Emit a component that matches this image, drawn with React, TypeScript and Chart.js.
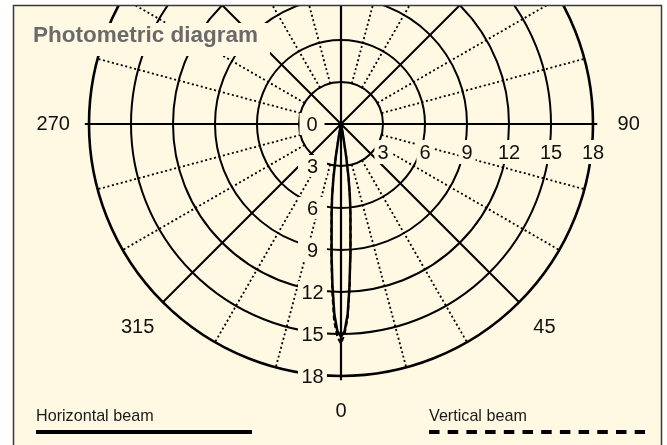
import React, { useEffect, useRef } from 'react';
import { Chart, registerables } from 'chart.js';

Chart.register(...registerables);

// ---------- data ----------
const ringValues = [3, 6, 9, 12, 15, 18];
const radialZeroLabel = '0';
const spokeAngles = [0, 15, 30, 45, 60, 75, 90, 105, 120, 135, 150, 165, 180, 195, 210, 225, 240, 255, 270, 285, 300, 315, 330, 345];
const angleTickAngles = [0, 45, 90, 270, 315];
const angleTickLabels = ['0', '45', '90', '270', '315'];

const beamAngles = [-12, -11, -10, -9, -8, -7, -6, -5, -4, -3, -2, -1, 0, 1, 2, 3, 4, 5, 6, 7, 8, 9, 10, 11, 12];
const horizontalBeam = [0, 0.3, 1.0, 2.4, 3.9, 5.2, 6.4, 7.8, 9.5, 11.6, 13.6, 14.8, 15.2, 14.8, 13.6, 11.6, 9.5, 7.8, 6.4, 5.2, 3.9, 2.4, 1.0, 0.3, 0];
const verticalBeam = [0, 0.3, 1.1, 2.5, 4.0, 5.3, 6.5, 8.0, 9.8, 12.0, 14.1, 15.2, 15.7, 15.0, 13.8, 11.7, 9.6, 7.9, 6.4, 5.2, 3.9, 2.4, 1.0, 0.3, 0];

const titleText = 'Photometric diagram';
const seriesNames = ['Horizontal beam', 'Vertical beam'];

// ---------- layout ----------
const W = 667;
const H = 445;
const CX = 341;
const CY = 124;
const U = 14; // px per unit
const FRAME = { l: 13, t: 5, r: 662, b: 470 };
const CREAM = '#fff8e3';
const FONT = '"Liberation Sans", Arial, Helvetica, sans-serif';
const LEGEND_X = [36, 429];
const LEGEND_LEN = 216;
const ANGLE_LABEL_R = 20.55;

const toXY = (r: number, deg: number) => {
  const a = (deg * Math.PI) / 180;
  return { x: r * Math.sin(a), y: -r * Math.cos(a) };
};

const photometricPlugin = {
  id: 'photometric',
  beforeDraw(chart: any) {
    const ctx = chart.ctx;
    ctx.save();
    ctx.fillStyle = '#ffffff';
    ctx.fillRect(0, 0, chart.width, chart.height);
    ctx.fillStyle = CREAM;
    ctx.fillRect(FRAME.l, FRAME.t, FRAME.r - FRAME.l, FRAME.b - FRAME.t);
    ctx.restore();
  },
  beforeDatasetsDraw(chart: any) {
    const ctx = chart.ctx;
    const xs = chart.scales.x;
    const ys = chart.scales.y;
    const cx = xs.getPixelForValue(0);
    const cy = ys.getPixelForValue(0);
    const pr = (v: number) => xs.getPixelForValue(v) - cx;
    const pt = (r: number, deg: number) => {
      const p = toXY(r, deg);
      return { x: xs.getPixelForValue(p.x), y: ys.getPixelForValue(p.y) };
    };
    ctx.save();
    ctx.beginPath();
    ctx.rect(FRAME.l + 1, FRAME.t + 1, FRAME.r - FRAME.l - 2, FRAME.b - FRAME.t - 2);
    ctx.clip();
    ctx.strokeStyle = '#000';
    ctx.lineCap = 'butt';

    // rings
    ringValues.forEach((v, i) => {
      ctx.beginPath();
      ctx.arc(cx, cy, pr(v), 0, Math.PI * 2);
      ctx.setLineDash([]);
      ctx.lineWidth = i === ringValues.length - 1 ? 2.6 : 2;
      ctx.stroke();
    });

    // spokes
    const rMin = ringValues[0];
    const rMax = ringValues[ringValues.length - 1];
    spokeAngles.forEach((a) => {
      const solid = a % 45 === 0;
      const axis = a % 90 === 0;
      const p0 = pt(solid ? 0 : rMin, a);
      const p1 = pt(axis ? rMax + 0.3 : rMax, a);
      ctx.beginPath();
      ctx.moveTo(p0.x, p0.y);
      ctx.lineTo(p1.x, p1.y);
      if (solid) {
        ctx.setLineDash([]);
        ctx.lineWidth = axis ? 2.2 : 2;
      } else {
        ctx.setLineDash([2, 2.6]);
        ctx.lineWidth = 1.8;
      }
      ctx.stroke();
    });
    ctx.setLineDash([]);

    // radial labels with boxes
    ctx.font = '20px ' + FONT;
    ctx.textAlign = 'center';
    ctx.textBaseline = 'middle';
    const boxed = (text: string, x: number, y: number, bw: number, bh: number) => {
      ctx.fillStyle = CREAM;
      ctx.fillRect(x - bw / 2, y - bh / 2, bw, bh);
      ctx.fillStyle = '#111';
      ctx.fillText(text, x, y + 1);
    };
    const lblX = cx - 29;
    boxed(radialZeroLabel, lblX, cy, 25, 22);
    ringValues.forEach((v) => {
      const p = pt(v, 0);
      boxed(String(v), lblX + 0.5, p.y, 29, 22);
    });
    ringValues.forEach((v) => {
      const p = pt(v, 90);
      const w = ctx.measureText(String(v)).width + 6;
      boxed(String(v), p.x, cy + 28, w, 24);
    });

    // angle labels
    angleTickAngles.forEach((a, i) => {
      const p = pt(ANGLE_LABEL_R, a);
      ctx.fillStyle = '#111';
      ctx.fillText(angleTickLabels[i], p.x, p.y);
    });

    // title
    ctx.fillStyle = CREAM;
    ctx.fillRect(FRAME.l + 1, 23, 256, 33);
    ctx.fillStyle = '#6a6a6a';
    ctx.font = 'bold 22.5px ' + FONT;
    ctx.textAlign = 'left';
    ctx.textBaseline = 'alphabetic';
    ctx.fillText(titleText, 33, 42);
    ctx.restore();
  },
  afterDraw(chart: any) {
    const ctx = chart.ctx;
    ctx.save();
    // legend
    chart.data.datasets.forEach((ds: any, i: number) => {
      const x0 = LEGEND_X[i];
      ctx.save();
      ctx.translate(x0, 421);
      ctx.scale(0.95, 1);
      ctx.font = '17px ' + FONT;
      ctx.fillStyle = '#1a1a1a';
      ctx.textAlign = 'left';
      ctx.textBaseline = 'alphabetic';
      ctx.fillText(ds.label, 0, 0);
      ctx.restore();
      ctx.beginPath();
      ctx.strokeStyle = '#000';
      ctx.lineWidth = 4;
      ctx.setLineDash(ds.borderDash && ds.borderDash.length ? [10.5, 8.2] : []);
      ctx.moveTo(x0, 432);
      ctx.lineTo(x0 + LEGEND_LEN, 432);
      ctx.stroke();
    });
    ctx.setLineDash([]);
    // frame
    ctx.strokeStyle = '#3a3a3a';
    ctx.lineWidth = 1.5;
    ctx.strokeRect(FRAME.l + 0.5, FRAME.t + 0.5, FRAME.r - FRAME.l - 1, FRAME.b - FRAME.t);
    ctx.restore();
  },
};

export default function App() {
  const canvasRef = useRef<HTMLCanvasElement | null>(null);

  useEffect(() => {
    if (!canvasRef.current) return;
    const mk = (vals: number[]) => beamAngles.map((a, i) => toXY(vals[i], a));
    const chart = new Chart(canvasRef.current, {
      type: 'scatter',
      data: {
        datasets: [
          {
            label: seriesNames[0],
            data: mk(horizontalBeam),
            showLine: true,
            borderColor: '#000',
            borderWidth: 2.5,
            pointRadius: 0,
            fill: false,
            tension: 0,
          },
          {
            label: seriesNames[1],
            data: mk(verticalBeam),
            showLine: true,
            borderColor: '#000',
            borderWidth: 2,
            borderDash: [5, 3],
            pointRadius: 0,
            fill: false,
            tension: 0,
          },
        ],
      },
      options: {
        animation: false,
        responsive: false,
        devicePixelRatio: 1,
        layout: { padding: 0 },
        plugins: {
          legend: { display: false },
          tooltip: { enabled: false },
          title: { display: false },
        },
        scales: {
          x: {
            type: 'linear',
            display: false,
            bounds: 'data',
            min: -CX / U,
            max: (W - CX) / U,
          },
          y: {
            type: 'linear',
            display: false,
            bounds: 'data',
            min: (CY - H) / U,
            max: CY / U,
          },
        },
      } as any,
      plugins: [photometricPlugin],
    });
    return () => chart.destroy();
  }, []);

  return (
    <div style={{ position: 'absolute', left: 0, top: 0, width: W, height: H }}>
      <canvas ref={canvasRef} width={W} height={H} style={{ width: W, height: H, display: 'block' }} />
    </div>
  );
}
